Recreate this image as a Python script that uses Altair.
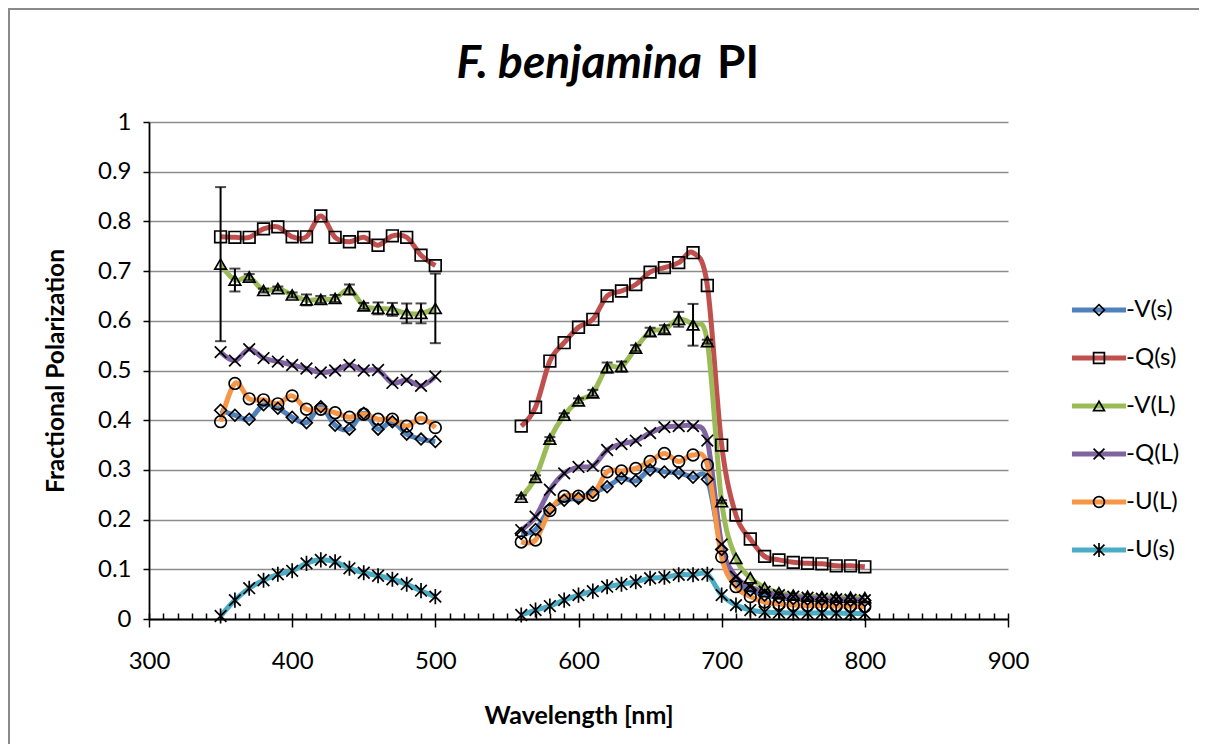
import altair as alt
import pandas as pd

# ---------------- data ----------------
wl_left = list(range(350, 501, 10))
wl_right = list(range(560, 801, 10))

series = ["-V(s)", "-Q(s)", "-V(L)", "-Q(L)", "-U(L)", "-U(s)"]
colors = ["#4F81BD", "#C0504D", "#9BBB59", "#8064A2", "#F79646", "#4BACC6"]
shapes = [
    "diamond",
    "square",
    "triangle-up",
    "M-1,-1L1,1M-1,1L1,-1",
    "circle",
    "M-1,-1L1,1M-1,1L1,-1M0,-1.3L0,1.3",
]

vs_left = [0.420, 0.410, 0.402, 0.431, 0.424, 0.406, 0.395, 0.427, 0.390, 0.382, 0.414, 0.382, 0.397, 0.372, 0.362, 0.357]
vs_right = [0.172, 0.180, 0.222, 0.239, 0.243, 0.255, 0.266, 0.283, 0.278, 0.300, 0.296, 0.294, 0.285, 0.281, 0.140,
            0.075, 0.058, 0.048, 0.043, 0.041, 0.040, 0.039, 0.038, 0.037, 0.037]

qs_left = [0.769, 0.768, 0.768, 0.785, 0.789, 0.769, 0.769, 0.811, 0.768, 0.759, 0.768, 0.752, 0.771, 0.768, 0.732, 0.711]
qs_right = [0.388, 0.426, 0.519, 0.556, 0.587, 0.603, 0.650, 0.660, 0.673, 0.698, 0.707, 0.717, 0.737, 0.671, 0.350,
            0.209, 0.161, 0.126, 0.119, 0.114, 0.112, 0.111, 0.107, 0.107, 0.105]

vl_left = [0.714, 0.682, 0.688, 0.661, 0.665, 0.652, 0.642, 0.643, 0.645, 0.663, 0.630, 0.625, 0.623, 0.615, 0.615, 0.625]
vl_right = [0.245, 0.285, 0.362, 0.410, 0.439, 0.455, 0.506, 0.508, 0.545, 0.578, 0.583, 0.603, 0.592, 0.558, 0.236,
            0.122, 0.083, 0.063, 0.053, 0.048, 0.046, 0.045, 0.044, 0.044, 0.043]

ql_left = [0.537, 0.520, 0.543, 0.525, 0.518, 0.511, 0.504, 0.496, 0.500, 0.511, 0.500, 0.501, 0.475, 0.481, 0.469, 0.488]
ql_right = [0.179, 0.206, 0.260, 0.293, 0.306, 0.308, 0.340, 0.352, 0.359, 0.374, 0.386, 0.388, 0.388, 0.359, 0.150,
            0.085, 0.065, 0.055, 0.048, 0.045, 0.043, 0.041, 0.040, 0.039, 0.038]

ul_left = [0.397, 0.474, 0.443, 0.441, 0.433, 0.449, 0.422, 0.422, 0.415, 0.406, 0.412, 0.402, 0.402, 0.388, 0.404, 0.385]
ul_right = [0.155, 0.159, 0.218, 0.247, 0.247, 0.249, 0.296, 0.298, 0.303, 0.317, 0.333, 0.317, 0.330, 0.310, 0.125,
            0.065, 0.045, 0.034, 0.030, 0.028, 0.027, 0.027, 0.026, 0.026, 0.025]

us_left = [0.006, 0.038, 0.062, 0.078, 0.090, 0.097, 0.112, 0.119, 0.115, 0.102, 0.093, 0.087, 0.080, 0.070, 0.057, 0.045]
us_right = [0.008, 0.018, 0.026, 0.038, 0.048, 0.056, 0.065, 0.070, 0.075, 0.082, 0.084, 0.089, 0.089, 0.090, 0.048,
            0.028, 0.018, 0.014, 0.013, 0.012, 0.012, 0.012, 0.012, 0.011, 0.011]

# error bars on -V(L)
vl_err_left = [0.155, 0.023, 0.006, 0.004, 0.004, 0.005, 0.011, 0.007, 0.007, 0.010, 0.006, 0.012, 0.013, 0.020, 0.020, 0.070]
vl_err_right = [0.004, 0.004, 0.004, 0.004, 0.005, 0.006, 0.010, 0.010, 0.006, 0.008, 0.008, 0.015, 0.042, 0.004, 0.003,
                0, 0, 0, 0, 0, 0, 0, 0, 0, 0]

x_major = list(range(300, 901, 100))
x_minor = list(range(300, 901, 10))
y_ticks = [i / 10 for i in range(11)]

# ---------------- table ----------------
left_vals = [vs_left, qs_left, vl_left, ql_left, ul_left, us_left]
right_vals = [vs_right, qs_right, vl_right, ql_right, ul_right, us_right]

rows = []
for name, lv, rv in zip(series, left_vals, right_vals):
    for w, v in zip(wl_left, lv):
        rows.append({"series": name, "seg": name + "|a", "wl": w, "val": v})
    for w, v in zip(wl_right, rv):
        rows.append({"series": name, "seg": name + "|b", "wl": w, "val": v})
df = pd.DataFrame(rows)
df["marker"] = df["series"] + " "

err_rows = []
for w, v, e in zip(wl_left + wl_right, vl_left + vl_right, vl_err_left + vl_err_right):
    if e > 0:
        err_rows.append({"wl": w, "lo": v - e, "hi": v + e})
err_df = pd.DataFrame(err_rows)

FONT = "Lato"
W, H = 859, 497

x_scale = alt.Scale(domain=[300, 900], nice=False)
y_scale = alt.Scale(domain=[0, 1], nice=False)

x_axis = alt.Axis(
    orient="bottom",
    values=x_major,
    tickSize=8,
    tickColor="black",
    tickWidth=1.5,
    domainColor="black",
    domainWidth=1.8,
    grid=False,
    labelFont=FONT,
    labelFontSize=24,
    labelColor="black",
    labelPadding=22,
    labelFlush=False,
    title="Wavelength [nm]",
    titleFont=FONT,
    titleFontSize=25,
    titleFontWeight="bold",
    titleColor="black",
    titlePadding=30,
)
x_minor_axis = alt.Axis(
    orient="bottom",
    values=x_minor,
    labels=False,
    domain=False,
    grid=False,
    tickSize=6,
    tickColor="black",
    tickWidth=1.5,
    offset=-6,
    title=None,
)
y_axis = alt.Axis(
    values=y_ticks,
    format="~g",
    grid=True,
    gridColor="#8c8c8c",
    gridWidth=1.5,
    tickColor="black",
    tickWidth=1.5,
    tickSize=6,
    domainColor="black",
    domainWidth=1.8,
    labelFont=FONT,
    labelFontSize=24,
    labelColor="black",
    labelPadding=12,
    title="Fractional Polarization",
    titleFont=FONT,
    titleFontSize=24.5,
    titleFontWeight="bold",
    titleColor="black",
    titlePadding=29,
)

base = alt.Chart(df)

LEG_X = 938
LEG_Y = 176

lines = base.mark_line(interpolate="cardinal", strokeWidth=5).encode(
    x=alt.X("wl:Q", scale=x_scale, axis=x_axis),
    y=alt.Y("val:Q", scale=y_scale, axis=y_axis),
    color=alt.Color(
        "series:N",
        scale=alt.Scale(domain=series, range=colors),
        sort=series,
        legend=alt.Legend(
            orient="none",
            legendX=LEG_X,
            legendY=LEG_Y,
            title=None,
            padding=0,
            symbolType="M-5,0H5",
            symbolSize=117,
            symbolStrokeWidth=5,
            labelFont=FONT,
            labelFontSize=24,
            labelColor="black",
            labelOffset=15,
            rowPadding=24,
        ),
    ),
    detail="seg:N",
    order="wl:Q",
)

points = base.mark_point(filled=False, color="black", strokeWidth=1.7, size=135, opacity=1).encode(
    x=alt.X("wl:Q", axis=None),
    y="val:Q",
    shape=alt.Shape(
        "marker:N",
        scale=alt.Scale(domain=[s + " " for s in series], range=shapes),
        sort=[s + " " for s in series],
        legend=alt.Legend(
            orient="none",
            legendX=LEG_X,
            legendY=LEG_Y,
            title=None,
            padding=0,
            symbolSize=117,
            symbolStrokeColor="black",
            symbolFillColor="transparent",
            symbolStrokeWidth=1.7,
            labelFont=FONT,
            labelFontSize=24,
            labelOpacity=0,
            labelOffset=15,
            rowPadding=24,
        ),
    ),
)

err_rule = alt.Chart(err_df).mark_rule(color="black", strokeWidth=2).encode(
    x=alt.X("wl:Q", axis=x_minor_axis), y="lo:Q", y2="hi:Q"
)
cap_hi = alt.Chart(err_df).mark_tick(color="black", orient="horizontal", size=11, thickness=2).encode(
    x=alt.X("wl:Q", axis=None), y="hi:Q"
)
cap_lo = alt.Chart(err_df).mark_tick(color="black", orient="horizontal", size=11, thickness=2).encode(
    x=alt.X("wl:Q", axis=None), y="lo:Q"
)

one = pd.DataFrame({"k": [0]})
title_it = alt.Chart(one).mark_text(
    font=FONT, fontSize=46, fontWeight="bold", fontStyle="italic", align="right", baseline="alphabetic", color="black"
).encode(x=alt.value(553), y=alt.value(-44), text=alt.value("F. benjamina"))
title_pi = alt.Chart(one).mark_text(
    font=FONT, fontSize=46, fontWeight="bold", align="left", baseline="alphabetic", color="black"
).encode(x=alt.value(568), y=alt.value(-44), text=alt.value("PI"))

frame = alt.Chart(one).mark_rect(fill="transparent", stroke="#8a8a8a", strokeWidth=2).encode(
    x=alt.value(-140), x2=alt.value(1070), y=alt.value(-113), y2=alt.value(660)
)

chart = (
    alt.layer(frame, lines, points, err_rule, cap_hi, cap_lo, title_it, title_pi)
    .resolve_axis(x="independent")
    .resolve_legend(color="independent", shape="independent")
    .properties(
        width=W,
        height=H,
        padding={"left": 141, "top": 114, "right": 191, "bottom": 125},
        autosize=alt.AutoSizeParams(type="none"),
        background="white",
    )
    .configure_view(stroke=None)
)

chart.save("out.html", embed_options={"renderer": "svg", "actions": False})
